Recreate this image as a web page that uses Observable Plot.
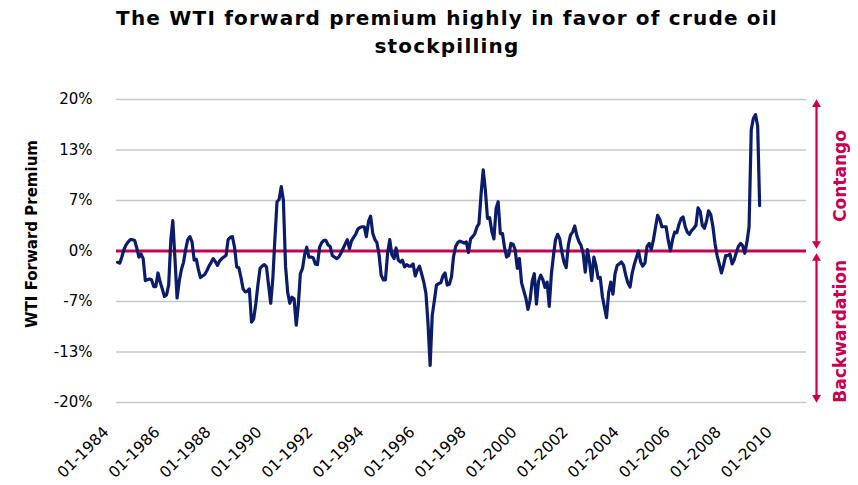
<!DOCTYPE html>
<html><head><meta charset="utf-8">
<script src="https://cdn.jsdelivr.net/npm/d3@7"></script>
<script src="https://cdn.jsdelivr.net/npm/@observablehq/plot@0.6"></script>
<style>
body{margin:0;background:#fff;font-family:"DejaVu Sans",Verdana,sans-serif;}
#title{width:858px;height:60px;text-align:center;font-weight:bold;font-size:20px;line-height:28px;padding-top:4px;padding-left:36px;box-sizing:border-box;color:#000;letter-spacing:1.2px;}
#chart svg{display:block;}
</style></head><body>
<div id="title">The WTI forward premium highly in favor of crude oil<br>stockpilling</div>
<div id="chart"></div>
<script>
// Monthly WTI forward premium (%), starting January 1984
const startYear = 1984;
const premium = [
  -1.5,-1.6,-0.8,0.2,0.8,1.2,1.5,1.5,1.4,0.4,-0.8,-0.4,        // 1984
  -1.0,-3.9,-3.8,-3.7,-3.8,-4.7,-4.7,-2.9,-4.1,-5.0,-6.0,-5.8,   // 1985
  -4.5,1.5,4.0,-1.0,-6.2,-4.0,-2.5,-1.5,0.2,1.5,1.9,1.2,         // 1986
  -1.2,-1.1,-2.4,-3.5,-3.3,-3.1,-2.6,-2.0,-1.5,-1.0,-1.4,-1.9,   // 1987
  -1.3,-1.0,-0.8,-0.6,1.5,1.8,1.9,0.5,-2.1,-2.2,-3.5,-5.0,       // 1988
  -5.4,-5.3,-5.0,-9.4,-9.0,-7.0,-4.5,-2.3,-2.0,-1.8,-2.1,-4.5,   // 1989
  -6.9,-3.5,1.5,6.5,6.8,8.5,6.7,-2.0,-5.5,-6.9,-6.1,-6.3,        // 1990
  -9.8,-7.0,-3.0,-2.3,-0.5,0.5,-0.8,-0.8,-0.9,-1.7,-1.8,0.5,     // 1991
  1.1,1.4,1.4,0.8,0.6,-0.6,-0.8,-1.0,-0.8,-0.3,0.3,0.9,          // 1992
  1.5,0.3,1.3,1.8,2.2,2.9,3.1,3.2,3.2,1.9,3.9,4.6,               // 1993
  2.3,1.5,1.1,-0.5,-3.2,-3.8,-3.8,-0.3,1.5,-0.5,-1.0,0.4,        // 1994
  -1.2,-1.45,-1.2,-2.1,-1.8,-2.0,-2.0,-1.7,-3.3,-2.5,-2.0,-3.0,  // 1995
  -4.1,-5.6,-9.5,-15.1,-8.5,-6.5,-4.5,-4.3,-4.2,-3.3,-2.9,-4.5,  // 1996
  -4.4,-3.4,-0.8,0.6,1.1,1.3,1.2,1.05,1.2,-0.2,1.6,1.9,          // 1997
  2.3,3.2,3.6,7.6,10.7,8.0,4.3,4.4,2.6,1.6,5.6,6.5,              // 1998
  2.3,2.3,0.5,-0.8,-0.6,1.0,0.9,0.2,-2.3,-1.0,-4.2,-5.2,         // 1999
  -6.2,-7.7,-6.5,-4.0,-3.0,-7.0,-4.0,-3.2,-3.8,-4.8,-4.1,-7.3,   // 2000
  -3.0,-0.5,1.5,2.2,1.6,-0.2,-1.5,-2.2,0.8,2.1,2.5,3.3,          // 2001
  2.0,1.2,0.75,-0.35,-2.8,0.2,-1.45,-3.9,-0.8,-1.9,-3.6,-3.5,    // 2002
  -6.0,-7.5,-8.8,-5.5,-4.1,-5.7,-3.0,-1.9,-1.7,-1.45,-1.9,-3.2,  // 2003
  -4.2,-4.75,-3.0,-1.8,-0.9,0.0,-1.45,-2.0,-1.6,0.6,1.0,0.2,     // 2004
  1.5,3.2,4.7,4.2,3.2,3.2,3.2,1.4,0.0,1.5,2.5,2.4,               // 2005
  3.5,4.3,4.5,3.2,2.5,2.2,2.7,3.0,3.4,5.7,5.2,3.4,               // 2006
  3.0,4.0,5.3,4.8,3.3,1.0,-0.6,-1.7,-2.9,-1.9,-0.6,-0.6,         // 2007
  -0.4,-1.7,-1.2,-0.2,0.6,1.0,0.7,-0.3,1.2,3.2,16.0,17.5,        // 2008
  18.0,16.5,6.0                                                  // 2009
];
const yTickValues = [-20, -13.333, -6.667, 0, 6.667, 13.333, 20];
const yTickLabels = ["-20%", "-13%", "-7%", "0%", "7%", "13%", "20%"];
const xTickYears = [1984,1986,1988,1990,1992,1994,1996,1998,2000,2002,2004,2006,2008,2010];
const regionLabels = ["Contango", "Backwardation"];

const data = premium.map((v, i) => ({date: new Date(Date.UTC(startYear, i, 1)), value: v}));
const xTicks = xTickYears.map(y => new Date(Date.UTC(y, 0, 1)));
const xEnd = new Date(Date.UTC(2011, 0, 1));
const yLabelMap = new Map(yTickValues.map((v, i) => [v, yTickLabels[i]]));
const red = "#c8004f";
const navy = "#0b1c6b";

const chart = Plot.plot({
  width: 858,
  height: 425,
  marginTop: 39,
  marginBottom: 83,
  marginLeft: 116,
  marginRight: 52,
  style: {fontFamily: "'DejaVu Sans', Verdana, sans-serif", background: "#fff"},
  x: {type: "utc", domain: [new Date(Date.UTC(1983, 11, 16)), xEnd]},
  y: {domain: [-20, 20]},
  marks: [
    Plot.gridY(yTickValues, {stroke: "#c3c8c8", strokeOpacity: 1, strokeWidth: 1.5}),
    Plot.axisY(yTickValues, {tickSize: 0, tickPadding: 24, fontSize: 15, fill: "#000",
      tickFormat: d => yLabelMap.get(d), label: null}),
    Plot.text(["WTI Forward Premium"], {frameAnchor: "left", rotate: -90, dx: -84, dy: -17,
      textAnchor: "middle", fontSize: 15, fontWeight: "bold", fill: "#000"}),
    Plot.axisX(xTicks, {tickSize: 0, tickRotate: -45, fontSize: 15.5, fill: "#000",
      tickFormat: d3.utcFormat("%m-%Y"), tickPadding: 27, dx: -11.5, label: null}),
    Plot.ruleY([0], {stroke: red, strokeWidth: 3}),
    Plot.line(data, {x: "date", y: "value", stroke: navy, strokeWidth: 3.2,
      strokeLinejoin: "round", strokeLinecap: "round"}),
    // annotation arrows on the right
    Plot.ruleX([xEnd], {y1: 19.3, y2: 0.9, dx: 10, stroke: red, strokeWidth: 2.2, clip: false}),
    Plot.ruleX([xEnd], {y1: -0.9, y2: -19.3, dx: 10, stroke: red, strokeWidth: 2.2, clip: false}),
    Plot.dot([{y: 20}, {y: -0.3}], {x: () => xEnd, y: "y", symbol: "triangle", r: 3.3,
      fill: red, stroke: "none", dx: 10, dy: 5}),
    Plot.dot([{y: 0.3}, {y: -20}], {x: () => xEnd, y: "y", symbol: "triangle", r: 3.3,
      rotate: 180, fill: red, stroke: "none", dx: 10, dy: -5}),
    Plot.text([{y: 9.9, t: regionLabels[0]}, {y: -10.6, t: regionLabels[1]}],
      {x: () => xEnd, y: "y", text: "t", rotate: -90, dx: 34, fontSize: 17, fontWeight: "bold",
       fill: red, textAnchor: "middle"})
  ]
});
document.getElementById("chart").appendChild(chart);
</script>
</body></html>
